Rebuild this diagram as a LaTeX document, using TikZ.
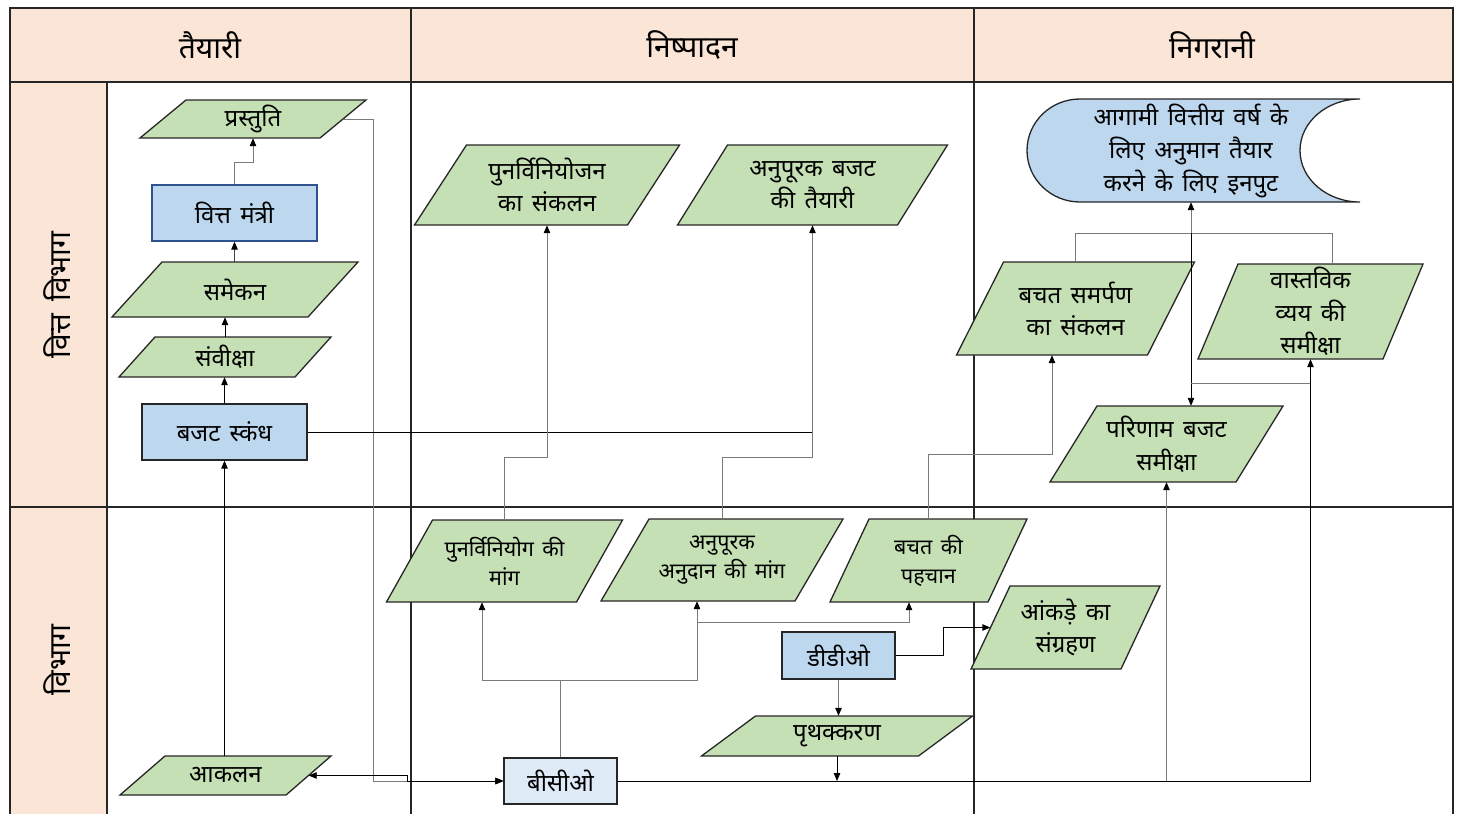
\documentclass[tikz,border=0pt]{standalone}
\usepackage{fontspec}
\newfontfamily\dev[Script=Devanagari,WordSpace=1.5]{Noto Sans}
\usetikzlibrary{arrows.meta,calc}
\definecolor{peach}{HTML}{FBE5D6}
\definecolor{pgreen}{HTML}{C5E0B4}
\definecolor{pblue}{HTML}{BDD7EE}
\definecolor{lblue}{HTML}{DEEBF7}
\definecolor{lgray}{HTML}{7A7A7A}
\definecolor{edge}{HTML}{262626}
\definecolor{vmedge}{HTML}{2F528F}
% #1 name, #2 cx, #3 cy, #4 w, #5 h, #6 slant, #7 font size, #8 baseline skip, #9 text
\newcommand\paranode[9]{%
  \draw[parashape] (#2-#4/2-#6/2,#3+#5/2) -- (#2+#4/2-#6/2,#3+#5/2) -- (#2+#4/2+#6/2,#3-#5/2) -- (#2-#4/2+#6/2,#3-#5/2) -- cycle;
  \node[ptext,minimum width=#4*1pt,minimum height=#5*1pt,font=\dev\fontsize{#7}{#8}\selectfont] (#1) at (#2,#3) {#9};
}
\begin{document}
\begin{tikzpicture}[x=1pt,y=-1pt,
  tbl/.style={line width=1.3pt,draw=black!85},
  parashape/.style={fill=pgreen,draw=edge,line width=1.3pt,line join=miter},
  ptext/.style={align=center,inner sep=0pt},
  boxnode/.style={draw=edge,line width=1.3pt,fill=pblue,align=center,inner sep=0pt,font=\dev\fontsize{24}{32}\selectfont},
  hdr/.style={font=\dev\fontsize{30}{34}\selectfont},
  cb/.style={draw=black,line width=0.9pt},
  cg/.style={draw=lgray,line width=1pt},
  tip/.style={-{Triangle[length=8pt,width=6.5pt,color=black]}},
  tipb/.style={{Triangle[length=8pt,width=6.5pt,color=black]}-{Triangle[length=8pt,width=6.5pt,color=black]}}]
\useasboundingbox (0,0) rectangle (1460,814);
% table
\fill[peach] (10,8) rectangle (1453,82);
\fill[peach] (10,82) rectangle (107,814);
\draw[tbl] (10,814) -- (10,8) -- (1453,8) -- (1453,814);
\draw[tbl] (10,82) -- (1453,82);
\draw[tbl] (411,8) -- (411,814);
\draw[tbl] (974,8) -- (974,814);
\draw[tbl] (107,82) -- (107,814);
\draw[tbl] (10,507) -- (1453,507);
\node[hdr] (h1) at (210,45) {तैयारी};
\node[hdr] (h2) at (692,45) {निष्पादन};
\node[hdr] (h3) at (1212,45) {निगरानी};
\node[hdr,rotate=90] (l1) at (57,295) {वित्त विभाग};
\node[hdr,rotate=90] (l2) at (57,660) {विभाग};
% nodes
\paranode{pr}{253}{119}{180}{38}{46}{24}{32}{प्रस्तुति}
\node[boxnode,draw=vmedge,minimum width=165pt,minimum height=56pt] (vm) at (234.5,213) {वित्त मंत्री};
\paranode{sam}{235}{289.5}{196}{55}{50}{24}{32}{समेकन}
\paranode{samv}{225}{357}{176}{40}{36}{24}{32}{संवीक्षा}
\node[boxnode,minimum width=165pt,minimum height=56pt] (bsk) at (224.5,432) {बजट स्कंध};
\paranode{pvs}{547}{185}{213}{80}{52}{24}{32}{पुनर्विनियोजन\\का संकलन}
\paranode{abt}{812.5}{185}{220}{80}{50}{24}{32}{अनुपूरक बजट\\की तैयारी}
% output shape
\draw[fill=pblue,draw=edge,line width=1.3pt] (1080,99) -- (1360,99)
  arc[start angle=90,end angle=270,x radius=60pt,y radius=51.5pt] -- (1080,202)
  arc[start angle=270,end angle=90,x radius=53pt,y radius=51.5pt] -- cycle;
\node[ptext,minimum width=300pt,minimum height=103pt,font=\dev\fontsize{24}{33}\selectfont] (out) at (1191,150.5) {आगामी वित्तीय वर्ष के\\लिए अनुमान तैयार\\करने के लिए इनपुट};
\paranode{bss}{1075.5}{308.5}{191}{93}{47}{24}{32}{बचत समर्पण\\का संकलन}
\paranode{vvs}{1310.5}{311.5}{185}{95}{40}{24}{32.5}{वास्तविक\\व्यय की\\समीक्षा}
\paranode{pbs}{1166.5}{444}{186}{76}{47}{24}{33}{परिणाम बजट\\समीक्षा}
\paranode{pvm}{504.5}{561}{190}{82}{46}{21.5}{29}{पुनर्विनियोग की\\मांग}
\paranode{aam}{722}{560}{194}{82}{48}{21.5}{29}{अनुपूरक\\अनुदान की मांग}
\paranode{bkp}{928.5}{560.5}{158}{83}{39}{21.5}{29}{बचत की\\पहचान}
\paranode{aks}{1065.5}{627.5}{150}{83}{39}{24}{32}{आंकड़े का\\संग्रहण}
\node[boxnode,minimum width=113pt,minimum height=47pt] (ddo) at (838.5,655.5) {डीडीओ};
\paranode{prk}{837}{736}{217}{40}{54}{24}{32}{पृथक्करण}
\paranode{aak}{225.5}{775.5}{166}{39}{45}{24}{32}{आकलन}
\node[boxnode,fill=lblue,minimum width=113pt,minimum height=46pt] (bco) at (560.5,781) {बीसीओ};
% connectors: preparation column
\draw[cg,tip] (vm.north) |- ($(pr.south)+(0,24)$) -- (pr.south);
\draw[cb,draw=black!75,tip] (sam.north -| vm.south) -- (vm.south);
\draw[cb,tip] (samv.north) -- (samv.north |- sam.south);
\draw[cb,tip] (bsk.north) -- (bsk.north |- samv.south);
\draw[cb,tip] (aak.north -| bsk.south) -- (bsk.south);
\draw[cg,tip] (pr.east) -| ($(bco.west)+(-130,0)$) -- (bco.west);
\draw[cb,tipb] (aak.east) -- ($(bco.west)+(-96,-5.5)$) -- ($(bco.west)+(-96,0)$) -- (bco.west);
% execution
\draw[cb] (bsk.east) -- (bsk.east -| abt.south);
\draw[cg,tip] (pvm.north) |- ($(pvs.south)+(0,232)$) -- (pvs.south);
\draw[cg,tip] (aam.north) |- ($(abt.south)+(0,232)$) -- (abt.south);
\coordinate (bj) at ($(bco.north)+(0,-77)$);
\coordinate (pvmin) at ($(pvm.south)+(-22.5,0)$);
\coordinate (aamin) at ($(aam.south)+(-25,0)$);
\coordinate (bkpin) at ($(bkp.south)+(-19.5,0)$);
\draw[cg] (bco.north) -- (bj);
\draw[cg,tip] (bj) -| (pvmin);
\draw[cg,tip] (bj) -| (aamin);
\draw[cg,tip] ($(aamin)+(0,21)$) -| (bkpin);
\draw[cg,tip] (ddo.south) -- (ddo.south |- prk.north);
\draw[cb,tip] (ddo.east) -| ($(ddo.east)!0.5!(aks.west)$) |- (aks.west);
\draw[cb,tip] (prk.south) -- (prk.south |- bco.east);
% monitoring
\coordinate (bssin) at ($(bss.south)+(-23.5,0)$);
\draw[cg,tip] (bkp.north) |- ($(bssin)+(0,99)$) -- (bssin);
\coordinate (jn) at ($(out.south)+(0,31)$);
\draw[cg,tip] (bss.north) |- (jn) -- (out.south);
\draw[cg] ($(vvs.north)+(22,0)$) |- (jn);
\draw[cb,tip] (jn) -- (jn |- pbs.north);
\coordinate (k) at ($(vvs.south)+(0,24)$);
\draw[cg] (k) -- (k -| jn);
\draw[cb] (bco.east) -- (bco.east -| vvs.south);
\draw[cb,tip] (bco.east -| vvs.south) -- (vvs.south);
\draw[cg,tip] (bco.east -| pbs.south) -- (pbs.south);
\end{tikzpicture}
\end{document}
